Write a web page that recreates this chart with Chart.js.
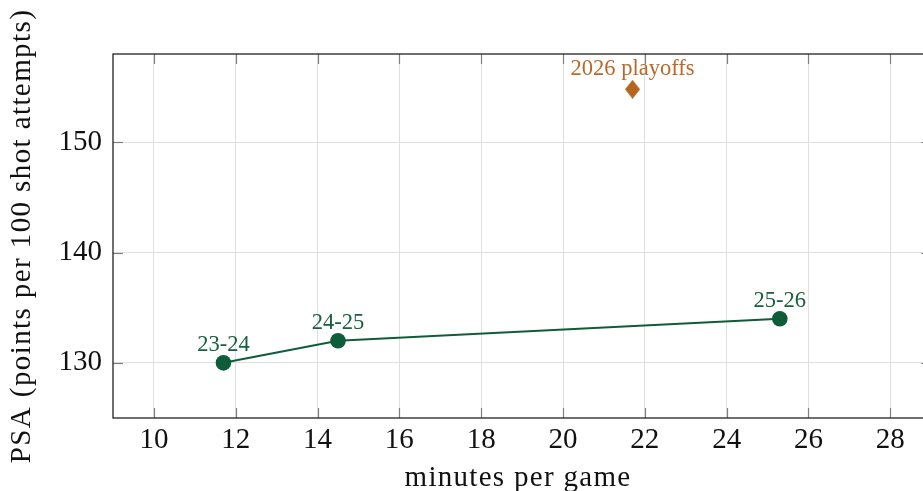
<!DOCTYPE html>
<html><head><meta charset="utf-8">
<script src="https://cdn.jsdelivr.net/npm/chart.js@4.4.1/dist/chart.umd.min.js"></script>
<style>html,body{margin:0;padding:0;background:#fff;overflow:hidden}#wrap{width:923px;height:491px}</style>
</head><body><div id="wrap"><canvas id="c" width="923" height="491"></canvas></div>
<script>
const seasonLabels = ["23-24", "24-25", "25-26"];
const seasonMinutes = [11.7, 14.5, 25.3];
const seasonPSA = [130, 132, 134];
const playoffLabel = ["2026 playoffs"];
const playoffMinutes = [21.7];
const playoffPSA = [154.8];
const xTicks = [10, 12, 14, 16, 18, 20, 22, 24, 26, 28];
const yTicks = [130, 140, 150];
const xFrameMax = 29;

const GREEN = '#0f5c3a';
const ORANGE = '#b5651d';
const FONT = '"Liberation Serif", "DejaVu Serif", serif';

function diamond(w, h, color) {
  const c = document.createElement('canvas');
  c.width = w; c.height = h;
  const g = c.getContext('2d');
  g.fillStyle = color;
  g.beginPath();
  g.moveTo(w/2, 0); g.lineTo(w, h/2); g.lineTo(w/2, h); g.lineTo(0, h/2); g.closePath();
  g.fill();
  return c;
}

function spacedTitle(s, sp) {
  if (s._spaced) return;
  const orig = s.drawTitle.bind(s);
  s.drawTitle = function () {
    const c = this.ctx;
    const old = c.letterSpacing;
    c.letterSpacing = sp;
    orig();
    c.letterSpacing = old || '0px';
  };
  s._spaced = true;
}

const framePlugin = {
  id: 'frame',
  afterDatasetsDraw(chart) {
    const {ctx, chartArea: a, scales: {x, y}} = chart;
    const right = x.getPixelForValue(xFrameMax);
    ctx.save();
    ctx.strokeStyle = '#808080';
    ctx.lineWidth = 1.2;
    const tl = 10;
    xTicks.forEach(v => {
      const px = Math.round(x.getPixelForValue(v)) + 0.5;
      ctx.beginPath(); ctx.moveTo(px, a.bottom); ctx.lineTo(px, a.bottom - tl); ctx.stroke();
      ctx.beginPath(); ctx.moveTo(px, a.top); ctx.lineTo(px, a.top + tl); ctx.stroke();
    });
    yTicks.forEach(v => {
      const py = Math.round(y.getPixelForValue(v)) + 0.5;
      ctx.beginPath(); ctx.moveTo(a.left, py); ctx.lineTo(a.left + tl, py); ctx.stroke();
      ctx.beginPath(); ctx.moveTo(right, py); ctx.lineTo(right - tl, py); ctx.stroke();
    });
    ctx.strokeStyle = '#222';
    ctx.lineWidth = 1.3;
    ctx.strokeRect(a.left, a.top, right - a.left, a.bottom - a.top);
    ctx.textAlign = 'center';
    ctx.textBaseline = 'alphabetic';
    ctx.font = '22.5px ' + FONT;
    chart.data.datasets.forEach((ds, i) => {
      const meta = chart.getDatasetMeta(i);
      ctx.fillStyle = ds.labelColor;
      meta.data.forEach((pt, j) => {
        ctx.fillText(ds.pointLabels[j], pt.x, pt.y - ds.labelOffset);
      });
    });
    ctx.restore();
  }
};

new Chart(document.getElementById('c'), {
  type: 'scatter',
  data: {
    datasets: [
      {
        data: seasonMinutes.map((m, i) => ({x: m, y: seasonPSA[i]})),
        pointLabels: seasonLabels,
        labelColor: '#18603f',
        labelOffset: 11.5,
        showLine: true,
        borderColor: GREEN,
        backgroundColor: GREEN,
        borderWidth: 2,
        pointRadius: 7.8,
        pointHoverRadius: 7.8,
        pointBorderWidth: 0
      },
      {
        data: playoffMinutes.map((m, i) => ({x: m, y: playoffPSA[i]})),
        pointLabels: playoffLabel,
        labelColor: '#b8692a',
        labelOffset: 14.5,
        showLine: false,
        borderColor: ORANGE,
        backgroundColor: ORANGE,
        pointStyle: diamond(15, 19, ORANGE),
        pointRadius: 9
      }
    ]
  },
  options: {
    responsive: false,
    animation: false,
    events: [],
    layout: {autoPadding: false, padding: {top: 54, right: 0, left: 0, bottom: 0}},
    plugins: {legend: {display: false}, tooltip: {enabled: false}},
    scales: {
      x: {
        type: 'linear',
        min: 9, max: 28.8,
        afterBuildTicks: s => { s.ticks = xTicks.map(v => ({value: v})); },
        afterFit: s => { s.height = 73; s.paddingLeft = 0; s.paddingRight = 0; spacedTitle(s, '1.3px'); },
        grid: {color: '#dfdfdf', lineWidth: 1, drawTicks: false},
        border: {display: false},
        ticks: {color: '#111', font: {family: FONT, size: 29}, padding: 5, maxRotation: 0},
        title: {display: true, text: 'minutes per game', color: '#111', font: {family: FONT, size: 29}, padding: {top: 0, bottom: -4.6}}
      },
      y: {
        type: 'linear',
        min: 125, max: 158,
        afterBuildTicks: s => { s.ticks = yTicks.map(v => ({value: v})); },
        afterFit: s => { s.width = 113; s.paddingTop = 0; s.paddingBottom = 0; spacedTitle(s, '1.4px'); },
        grid: {color: '#dfdfdf', lineWidth: 1, drawTicks: false},
        border: {display: false},
        ticks: {color: '#111', font: {family: FONT, size: 29}, padding: 11},
        title: {display: true, text: 'PSA (points per 100 shot attempts)', color: '#111', font: {family: FONT, size: 29}, padding: {top: 4.8, bottom: 0}}
      }
    }
  },
  plugins: [framePlugin]
});
</script>
</body></html>
